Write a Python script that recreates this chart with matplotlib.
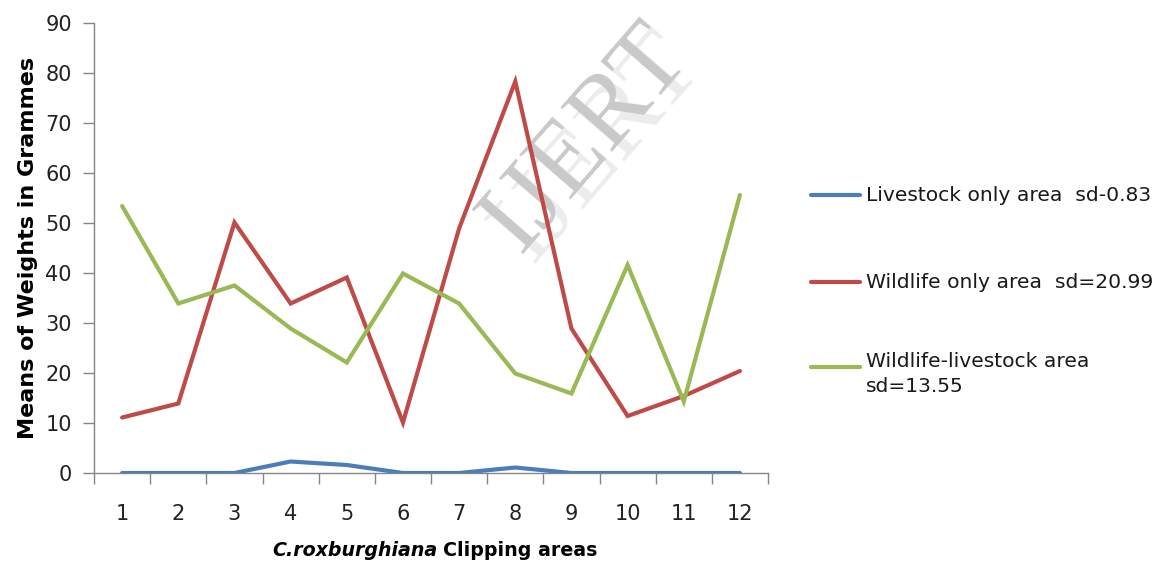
import matplotlib.pyplot as plt
from matplotlib.lines import Line2D
from matplotlib.transforms import offset_copy
import numpy as np

# Data
areas = [1, 2, 3, 4, 5, 6, 7, 8, 9, 10, 11, 12]
livestock_only = [0, 0, 0, 2.3, 1.6, 0, 0, 1.1, 0, 0, 0, 0]
wildlife_only = [11.1, 13.9, 50.1, 33.9, 39.1, 10.1, 48.9, 78.3, 28.9, 11.4, 15.4, 20.4]
wildlife_livestock = [53.4, 33.9, 37.5, 28.9, 22.1, 39.9, 33.9, 19.9, 15.9, 41.6, 14.3, 55.6]

labels = ['Livestock only area  sd-0.83',
          'Wildlife only area  sd=20.99',
          'Wildlife-livestock area\nsd=13.55']
colors = ['#4A7EBB', '#BE4B48', '#98B954']

plt.rcParams['font.family'] = ['DejaVu Sans']

fig = plt.figure(figsize=(11.67, 5.69), dpi=100)
ax = fig.add_axes([0.0806, 0.1687, 0.5775, 0.7909])

series = [livestock_only, wildlife_only, wildlife_livestock]
for vals, col in zip(series, colors):
    ax.plot(areas, vals, color=col, linewidth=3, solid_capstyle='round',
            solid_joinstyle='miter', zorder=3)

ax.set_xlim(0.5, 12.5)
ax.set_ylim(0, 90)
ax.set_yticks(np.arange(0, 91, 10))
ax.set_xticks(areas)
ax.set_xticks(np.arange(0.5, 12.6, 1), minor=True)
ax.tick_params(axis='x', which='major', length=0, pad=22, labelsize=15,
               labelcolor='#222222')
ax.tick_params(axis='x', which='minor', length=8, color='#868686', width=1)
ax.tick_params(axis='y', length=8, color='#868686', width=1, pad=8,
               labelsize=15, labelcolor='#222222')

for s in ['top', 'right']:
    ax.spines[s].set_visible(False)
for s in ['left', 'bottom']:
    ax.spines[s].set_color('#868686')
    ax.spines[s].set_linewidth(1)

ax.set_ylabel('Means of Weights in Grammes', fontsize=16, fontweight='bold',
              labelpad=5)
fig.text(0.375, 0.033, 'C.roxburghiana', fontsize=13.7, fontweight='bold',
         style='italic', ha='right', va='center')
fig.text(0.380, 0.033, 'Clipping areas', fontsize=13.7, fontweight='bold',
         ha='left', va='center')

# legend drawn beside the axes
leg_y = [0.657, 0.504, 0.355]
for lab, col, y in zip(labels, colors, leg_y):
    fig.add_artist(Line2D([0.695, 0.737], [y, y], color=col, linewidth=3,
                          solid_capstyle='round', transform=fig.transFigure))
    if '\n' in lab:
        fig.text(0.742, y + 0.027, lab, fontsize=14.6, va='top',
                 color='#1a1a1a', linespacing=1.4)
    else:
        fig.text(0.742, y, lab, fontsize=14.6, va='center', color='#1a1a1a')

# watermark (behind the lines)
wm_kw = dict(fontsize=74, family='Liberation Serif', rotation=49,
             ha='center', va='center', zorder=1)
shadow = offset_copy(fig.transFigure, fig=fig, x=12, y=-10, units='dots')
fig.text(0.503, 0.755, 'IJERT', color='#ececec', transform=shadow, **wm_kw)
fig.text(0.503, 0.755, 'IJERT', color='#c9c9c9', **wm_kw)
ax.set_zorder(2)
ax.patch.set_visible(False)

fig.savefig('out.png', dpi=100)
